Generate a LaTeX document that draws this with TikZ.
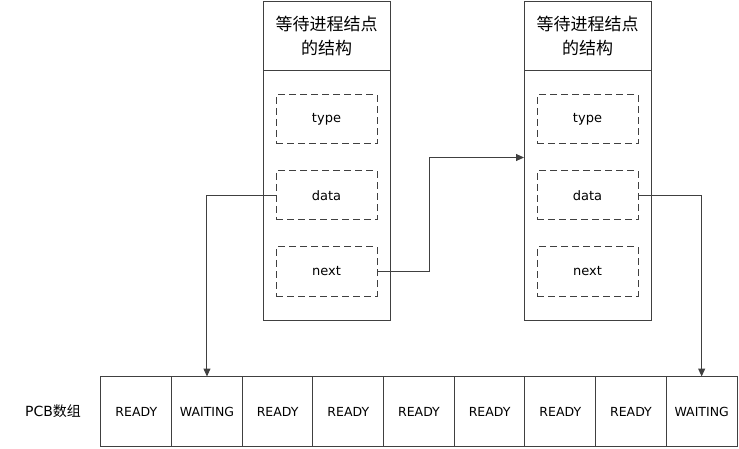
\documentclass[tikz,border=0pt]{standalone}
\usepackage{fontspec}
\setmainfont{DejaVu Sans}
\newfontfamily\cjk{Noto Sans CJK SC}
\usetikzlibrary{calc, positioning, chains, arrows.meta}

\begin{document}
\begin{tikzpicture}[x=1pt, y=-1pt,
                frame/.style={draw=black!75, line width=1pt, minimum width=127pt, outer sep=0pt, inner sep=0pt},
                hdr/.style={frame, minimum height=69pt, align=center, font=\cjk\fontsize{17}{24}\selectfont},
                body/.style={frame, minimum height=249pt},
                field/.style={draw=black!75, line width=1pt, dash pattern=on 7pt off 4pt, minimum width=101pt, minimum height=49pt, outer sep=0pt, font=\fontsize{13}{15}\selectfont},
                cell/.style={draw=black!75, line width=1pt, minimum width=70.67pt, minimum height=70pt, outer sep=0pt, inner sep=0pt, font=\fontsize{12.5}{14}\selectfont, on chain},
                link/.style={draw=black!75, line width=1pt, -{Triangle[length=8pt, width=7pt]}},
                start chain, node distance=0pt]

    \useasboundingbox (0,0) rectangle (739,449); % same size as the reference

    % left waiting node
    \node [hdr]                       (hdrL)  at (326.5, 36.5) {等待进程结点\\的结构};
    \node [body, below=0pt of hdrL]   (bodyL) {};
    \node [field, below=24pt of hdrL] (typeL) {type};
    \node [field, below=27pt of typeL] (dataL) {data};
    \node [field, below=27pt of dataL] (nextL) {next};

    % right waiting node
    \node [hdr]                       (hdrR)  at (587.5, 36.5) {等待进程结点\\的结构};
    \node [body, below=0pt of hdrR]   (bodyR) {};
    \node [field, below=24pt of hdrR] (typeR) {type};
    \node [field, below=27pt of typeR] (dataR) {data};
    \node [field, below=27pt of dataR] (nextR) {next};
    \coordinate (gapR) at ($(typeR.south)!.5!(dataR.north)$);

    % PCB array
    \node [font=\fontsize{14}{16}\selectfont] (pcb) at (53, 411) {PCB{\cjk 数组}};
    \node [cell] (c1) at (136.3, 411.5) {READY};
    \node [cell] (c2) {WAITING};
    \node [cell] (c3) {READY};
    \node [cell] (c4) {READY};
    \node [cell] (c5) {READY};
    \node [cell] (c6) {READY};
    \node [cell] (c7) {READY};
    \node [cell] (c8) {READY};
    \node [cell] (c9) {WAITING};

    \draw [link] (dataL.west) -| (c2.north);
    \draw [link] (nextL.east) -- ++(52,0) |- (bodyR.west |- gapR);
    \draw [link] (dataR.east) -| (c9.north);

\end{tikzpicture}
\end{document}
